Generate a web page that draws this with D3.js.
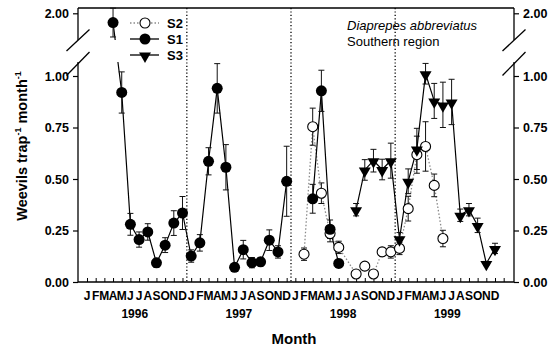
<!DOCTYPE html>
<html>
<head>
<meta charset="utf-8">
<script src="https://cdn.jsdelivr.net/npm/d3@7"></script>
<style>
  html, body { margin: 0; padding: 0; background: #fff; }
  svg { display: block; font-family: Arial, "Liberation Sans", sans-serif; }
</style>
</head>
<body>
<svg id="chart" width="560" height="346"></svg>
<script>
// Monthly trap catches, Jan 1996 (index 0) to Dec 1999 (index 47)
const monthLetters = ["J","F","M","A","M","J","J","A","S","O","N","D"];
const years = [1996, 1997, 1998, 1999];
const yTicksLow = [0, 0.25, 0.5, 0.75, 1.0];
const yTicksHigh = [2.0];

// S1: April 1996 - June 1998 (null = not sampled)
const s1Start = 3;
const s1Values = [1.955, 0.92, 0.28, 0.206, 0.243, 0.093, 0.179, 0.286, 0.335,
                  0.126, 0.19, 0.586, 0.94, 0.557, 0.071, 0.157, 0.094, 0.098, 0.203, 0.146, 0.489,
                  null, null, 0.404, 0.928, 0.256, 0.09];
const s1Errors = [0.07, 0.10, 0.053, 0.037, 0.04, 0.022, 0.036, 0.06, 0.08,
                  0.03, 0.04, 0.066, 0.12, 0.11, 0.01, 0.045, 0.025, 0.02, 0.05, 0.03, 0.17,
                  null, null, 0.07, 0.10, 0.045, 0.02];

// S2: February 1998 - June 1999
const s2Start = 25;
const s2Values = [0.135, 0.754, 0.431, 0.235, 0.168, null, 0.039, 0.077, 0.039, 0.146, 0.146,
                  0.163, 0.356, 0.618, 0.658, 0.469, 0.211];
const s2Errors = [0.03, 0.09, 0.05, 0.04, 0.03, null, 0.01, 0.015, 0.01, 0.02, 0.03,
                  0.03, 0.06, 0.09, 0.12, 0.055, 0.04];

// S3: August 1998 - December 1999
const s3Start = 31;
const s3Values = [0.351, 0.544, 0.589, 0.546, 0.589,
                  0.21, 0.489, 0.646, 1.011, 0.879, 0.86, 0.874, 0.324, 0.351, 0.275, 0.09, 0.163];
const s3Errors = [0.03, 0.05, 0.055, 0.05, 0.085,
                  0.03, 0.06, 0.10, 0.05, 0.085, 0.11, 0.11, 0.03, 0.03, 0.035, 0.01, 0.025];

(function () {
function toPoints(start, values, errors) {
  return values.map((v, i) => ({ m: start + i, v: v, e: errors[i] }));
}
const s1 = toPoints(s1Start, s1Values, s1Errors);
const s2 = toPoints(s2Start, s2Values, s2Errors);
const s3 = toPoints(s3Start, s3Values, s3Errors);

const svg = d3.select("#chart");
const pLeft = 78, pRight = 514, pTop = 8, pBottom = 282;
const breakTop = 40, breakBottom = 62;

// Month scale and the two panels of the broken value axis
const x = d3.scaleLinear().domain([0, 47]).range([87, 495]);
const yLow = d3.scaleLinear().domain([0, 1]).range([pBottom, 76]);
const yHigh = d3.scaleLinear().domain([1.9, 2.0]).range([13.3 + 20.6, 13.3]);
const y = v => (v > 1.5 ? yHigh(v) : yLow(v));

// Clip that hides the axis-break band for lines and error bars
const defs = svg.append("defs");
const clip = defs.append("clipPath").attr("id", "panels");
clip.append("rect").attr("x", pLeft).attr("y", 0).attr("width", pRight - pLeft).attr("height", breakTop);
clip.append("rect").attr("x", pLeft).attr("y", breakBottom).attr("width", pRight - pLeft).attr("height", 346 - breakBottom);

// Year separators
svg.append("g").selectAll("line").data([11.5, 23.5, 35.5]).join("line")
  .attr("x1", d => x(d)).attr("x2", d => x(d))
  .attr("y1", pTop).attr("y2", pBottom)
  .attr("stroke", "#000").attr("stroke-width", 1.3).attr("stroke-dasharray", "1.2,2.2");

// Frame: top line, left and right axes (broken), bottom axis
const axisG = svg.append("g").attr("stroke", "#000").attr("stroke-width", 1.3).attr("fill", "none");
axisG.append("line").attr("x1", pLeft).attr("x2", pRight).attr("y1", pTop).attr("y2", pTop);
[pLeft, pRight].forEach(ax => {
  axisG.append("line").attr("x1", ax).attr("x2", ax).attr("y1", pTop).attr("y2", breakTop);
  axisG.append("line").attr("x1", ax).attr("x2", ax).attr("y1", breakBottom).attr("y2", pBottom);
  axisG.append("line").attr("x1", ax - 11.5).attr("x2", ax + 11.5).attr("y1", 51).attr("y2", 29.5);
  axisG.append("line").attr("x1", ax - 11.5).attr("x2", ax + 11.5).attr("y1", 75.5).attr("y2", 52);
});

// Bottom axis with inward month ticks
const xAxis = d3.axisBottom(x).tickValues(d3.range(0, 49)).tickSize(-4).tickFormat("");
const gx = svg.append("g").attr("transform", `translate(0,${pBottom})`).call(xAxis);
gx.select(".domain").remove();
gx.selectAll(".tick line").attr("stroke", "#000").attr("stroke-width", 1);
svg.append("line").attr("x1", pLeft).attr("x2", pRight).attr("y1", pBottom).attr("y2", pBottom)
  .attr("stroke", "#000").attr("stroke-width", 1.3);

// Month letters and years
const monthIdx = d3.range(0, 48);
svg.append("g").selectAll("text").data(monthIdx).join("text")
  .attr("x", d => x(d)).attr("y", 299.5)
  .attr("text-anchor", "middle").attr("font-size", 12).attr("font-weight", "bold")
  .text(d => monthLetters[d % 12]);
svg.append("g").selectAll("text").data(years).join("text")
  .attr("x", (d, i) => x(i * 12 + 5.5)).attr("y", 317.5)
  .attr("text-anchor", "middle").attr("font-size", 12).attr("font-weight", "bold")
  .text(d => d);
svg.append("text").attr("x", 294).attr("y", 343.5).attr("text-anchor", "middle")
  .attr("font-size", 15).attr("font-weight", "bold").text("Month");

// Value axes on both sides
function valueAxis(axisFn, scale, ticks, xPos) {
  const g = svg.append("g").attr("transform", `translate(${xPos},0)`)
    .call(axisFn(scale).tickValues(ticks).tickSize(5).tickPadding(4).tickFormat(d3.format(".2f")));
  g.select(".domain").remove();
  g.selectAll(".tick line").attr("stroke", "#000").attr("stroke-width", 1.2);
  g.selectAll(".tick text").attr("font-size", 12.5).attr("font-weight", "bold")
    .attr("font-family", "Arial, 'Liberation Sans', sans-serif").attr("fill", "#000");
}
valueAxis(d3.axisLeft, yLow, yTicksLow, pLeft);
valueAxis(d3.axisLeft, yHigh, yTicksHigh, pLeft);
valueAxis(d3.axisRight, yLow, yTicksLow, pRight);
valueAxis(d3.axisRight, yHigh, yTicksHigh, pRight);

// Y title
const yt = svg.append("text").attr("transform", "translate(27,146) rotate(-90)")
  .attr("text-anchor", "middle").attr("font-size", 14.5).attr("font-weight", "bold");
yt.append("tspan").text("Weevils trap");
yt.append("tspan").attr("font-size", 9).attr("dy", -6).text("-1");
yt.append("tspan").attr("dy", 6).text(" month");
yt.append("tspan").attr("font-size", 9).attr("dy", -6).text("-1");

// Series drawing
const plot = svg.append("g").attr("clip-path", "url(#panels)");
const marks = svg.append("g");
const tri = d3.symbol().type(d3.symbolTriangle).size(62);

function drawMarker(g, type, cx, cy) {
  if (type === "open") {
    g.append("circle").attr("cx", cx).attr("cy", cy).attr("r", 5)
      .attr("fill", "#fff").attr("stroke", "#000").attr("stroke-width", 1.1);
  } else if (type === "filled") {
    g.append("circle").attr("cx", cx).attr("cy", cy).attr("r", 5.5).attr("fill", "#000");
  } else {
    g.append("path").attr("d", tri).attr("transform", `translate(${cx},${cy + 1}) rotate(180)`)
      .attr("fill", "#000");
  }
}

function drawSeries(data, opts) {
  const line = d3.line().x(d => x(d.m)).y(d => y(d.v));
  const pts = data.filter(d => d.v != null);
  const path = opts.bridge
    ? plot.append("path").datum(pts).attr("d", line)
    : plot.append("path").datum(data).attr("d", line.defined(d => d.v != null));
  path.attr("fill", "none").attr("stroke", opts.lineColor).attr("stroke-width", opts.lineWidth)
    .attr("stroke-dasharray", opts.dash || null);
  const eb = plot.append("g").attr("stroke", "#111").attr("stroke-width", 1);
  pts.forEach(d => {
    const cx = x(d.m), y1 = y(d.v + d.e), y2 = y(d.v - d.e);
    eb.append("line").attr("x1", cx).attr("x2", cx).attr("y1", y1).attr("y2", y2);
    eb.append("line").attr("x1", cx - 3).attr("x2", cx + 3).attr("y1", y1).attr("y2", y1);
    eb.append("line").attr("x1", cx - 3).attr("x2", cx + 3).attr("y1", y2).attr("y2", y2);
  });
  const mg = marks.append("g");
  pts.forEach(d => drawMarker(mg, opts.marker, x(d.m), y(d.v)));
}

drawSeries(s2, { marker: "open", lineColor: "#8a8a8a", lineWidth: 1.3, dash: "1.5,2", bridge: true });
drawSeries(s1, { marker: "filled", lineColor: "#000", lineWidth: 1.2, bridge: false });
drawSeries(s3, { marker: "tri", lineColor: "#000", lineWidth: 1.2, bridge: false });

// Legend
const legend = [
  { name: "S2", marker: "open", color: "#8a8a8a", dash: "1.5,2" },
  { name: "S1", marker: "filled", color: "#000", dash: null },
  { name: "S3", marker: "tri", color: "#000", dash: null }
];
const lg = svg.append("g");
legend.forEach((d, i) => {
  const ly = 23 + i * 16;
  lg.append("line").attr("x1", 130).attr("x2", 159).attr("y1", ly).attr("y2", ly)
    .attr("stroke", d.color).attr("stroke-width", 1.3).attr("stroke-dasharray", d.dash);
  drawMarker(lg, d.marker, 145, ly);
  lg.append("text").attr("x", 167).attr("y", ly + 4.5).attr("font-size", 13)
    .attr("font-weight", "bold").text(d.name);
});

// Species / region note
svg.append("text").attr("x", 347).attr("y", 30).attr("font-size", 13)
  .attr("font-style", "italic").text("Diaprepes abbreviatus");
svg.append("text").attr("x", 347).attr("y", 45.5).attr("font-size", 13)
  .text("Southern region");
})();
</script>
</body>
</html>
